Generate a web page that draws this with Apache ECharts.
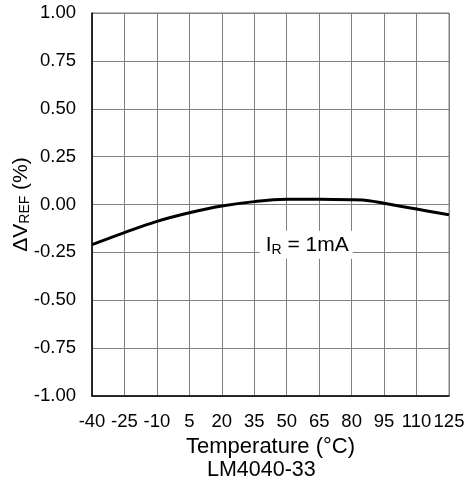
<!DOCTYPE html>
<html>
<head>
<meta charset="utf-8">
<script src="https://cdn.jsdelivr.net/npm/echarts@6/dist/echarts.min.js"></script>
<style>html,body{margin:0;padding:0;background:#fff;}#c{width:465px;height:485px;}</style>
</head>
<body>
<div id="c"></div>
<script>
const temperatures = [-40, -25, -10, 5, 20, 35, 50, 65, 80, 88, 95, 110, 125];
const deltaVref = [-0.21, -0.147, -0.088, -0.043, -0.008, 0.015, 0.027, 0.028, 0.025, 0.02, 0.006, -0.024, -0.054];
const annotation = { x: 59, y: -0.21 };
const subtitle = 'LM4040-33';

const font = 'Liberation Sans, Arial, sans-serif';
const chart = echarts.init(document.getElementById('c'));
chart.setOption({
  animation: false,
  backgroundColor: '#fff',
  grid: { left: 92, right: 16, top: 13, bottom: 89, show: true, borderColor: '#808080', borderWidth: 1, outerBoundsMode: 'none', containLabel: false },
  graphic: [{
    type: 'text', left: 260 - 53, top: 459,
    style: { text: subtitle, font: '21.5px ' + font, fill: '#000' }
  }],
  xAxis: {
    type: 'value', min: -40, max: 125, interval: 15,
    name: 'Temperature (°C)', nameLocation: 'middle', nameGap: 30,
    nameTextStyle: { fontFamily: font, fontSize: 22, color: '#000' },
    axisLine: { show: true, onZero: false, lineStyle: { color: '#000', width: 1.5 } },
    axisTick: { show: false },
    axisLabel: { fontFamily: font, fontSize: 18.5, color: '#000', margin: 16 },
    splitLine: { show: true, lineStyle: { color: '#808080', width: 1 } }
  },
  yAxis: {
    type: 'value', min: -1, max: 1, interval: 0.25,
    name: '{n|ΔV}{s|REF}{n| (%)}', nameLocation: 'middle', nameGap: 60, nameRotate: 90,
    nameMoveOverlap: false,
    nameTextStyle: {
      fontFamily: font, fontSize: 21, color: '#000',
      rich: {
        n: { fontFamily: font, fontSize: 21, color: '#000' },
        s: { fontFamily: font, fontSize: 14, color: '#000', verticalAlign: 'bottom', padding: [8, 0, 0, 0] }
      }
    },
    axisLine: { show: true, onZero: false, lineStyle: { color: '#000', width: 1.5 } },
    axisTick: { show: false },
    axisLabel: { fontFamily: font, fontSize: 18.5, color: '#000', margin: 16, formatter: v => v.toFixed(2) },
    splitLine: { show: true, lineStyle: { color: '#808080', width: 1 } }
  },
  series: [{
    type: 'line',
    data: temperatures.map((t, i) => [t, deltaVref[i]]),
    smooth: 0.4,
    showSymbol: false,
    lineStyle: { color: '#000', width: 3 },
    markPoint: {
      symbol: 'circle', symbolSize: 0,
      data: [{
        coord: [annotation.x, annotation.y],
        label: {
          show: true, position: 'inside',
          formatter: '{n|I}{s|R}{n| = 1mA}',
          backgroundColor: '#fff', padding: [3, 4, 2, 6],
          rich: {
            n: { fontFamily: font, fontSize: 21, color: '#000' },
            s: { fontFamily: font, fontSize: 14, color: '#000', padding: [9, 0, 0, 0] }
          }
        }
      }]
    }
  }]
});
</script>
</body>
</html>
